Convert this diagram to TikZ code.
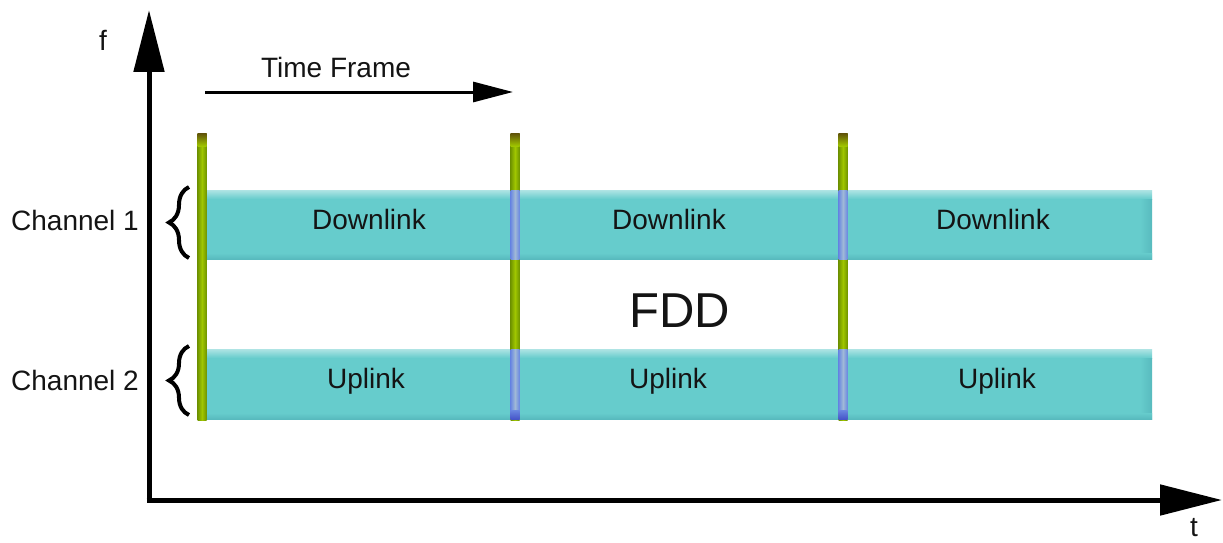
\documentclass[tikz,border=0pt]{standalone}
\usepackage{fontspec}
\setmainfont{Liberation Sans}
\usetikzlibrary{arrows.meta,decorations.pathreplacing}

\definecolor{band}{RGB}{102,204,204}
\definecolor{bandtop}{RGB}{175,228,228}
\definecolor{bandedge}{RGB}{88,186,190}
\definecolor{bargreen}{RGB}{160,198,0}
\definecolor{bardark}{RGB}{112,148,0}
\definecolor{barcap}{RGB}{95,80,10}
\definecolor{barblue}{RGB}{160,185,215}
\definecolor{barblueedge}{RGB}{105,135,225}
\definecolor{barbluedark}{RGB}{70,85,200}

\tikzset{
  lbl/.style={font=\fontsize{28}{31}\selectfont, text=black!92},
  big/.style={font=\fontsize{49}{52}\selectfont, text=black!92},
  axis/.style={line width=5pt, -{Triangle[length=62pt,width=30pt]}},
  frame arrow/.style={line width=3pt, -{Triangle[length=40pt,width=20pt]}},
  chbrace/.style={line width=4pt, decorate, decoration={brace,amplitude=20pt}},
}

\begin{document}
\begin{tikzpicture}[x=1pt,y=-1pt]
  \useasboundingbox (0,0) rectangle (1223,543);
  \fill[white] (0,0) rectangle (1223,543);

  % frequency bands
  \foreach \name/\ya/\yb in {down/190/259, up/349/419} {
    \fill[band] (207,\ya) rectangle (1152,\yb);
    \shade[top color=bandtop, bottom color=band] (207,\ya) rectangle (1152,\ya+9);
    \shade[left color=band, right color=bandedge] (1140,\ya+9) rectangle (1152,\yb);
    \shade[top color=band, bottom color=bandedge] (207,\yb-6) rectangle (1152,\yb);
  }

  % frame boundary bars
  \foreach \x in {202,515,843} {
    \shade[left color=bardark, right color=bardark, middle color=bargreen] (\x-4.5,133) rectangle (\x+4.5,420);
    \shade[top color=barcap, bottom color=bargreen] (\x-4.5,133) rectangle (\x+4.5,146);
  }
  % bar sections seen through the bands
  \foreach \x in {515,843} {
    \foreach \ya/\yb in {190/259, 349/419} {
      \shade[left color=barblueedge, right color=barblueedge, middle color=barblue] (\x-4.5,\ya) rectangle (\x+4.5,\yb);
    }
    \shade[top color=barblueedge, bottom color=barbluedark] (\x-4.5,410) rectangle (\x+4.5,419);
  }

  % axes
  \coordinate (O) at (149,500);
  \coordinate (ftop) at (149,10);
  \coordinate (tend) at (1222,500);
  \draw[axis] (O) -- (ftop);
  \draw[axis] ([xshift=-2.5pt]O) -- (tend);
  \node[lbl] (flabel) at (103,40) {f};
  \node[lbl] (tlabel) at (1194,528) {t};

  % time frame arrow
  \coordinate (tf0) at (205,92);
  \coordinate (tf1) at (513,92);
  \draw[frame arrow] (tf0) -- (tf1);
  \node[lbl] (tf) at (336,67) {Time Frame};

  % channel labels and braces
  \node[lbl] (ch1) at (75,220) {Channel 1};
  \node[lbl] (ch2) at (75,380) {Channel 2};
  \coordinate (b1a) at (189,258);
  \coordinate (b1b) at (189,187);
  \coordinate (b2a) at (189,415);
  \coordinate (b2b) at (189,346);
  \draw[chbrace] (b1a) -- (b1b);
  \draw[chbrace] (b2a) -- (b2b);

  % band labels
  \node[lbl] (d1) at (369,219) {Downlink};
  \node[lbl] (d2) at (669,219) {Downlink};
  \node[lbl] (d3) at (993,219) {Downlink};
  \node[lbl] (u1) at (366,381) {Uplink};
  \node[lbl] (u2) at (668,381) {Uplink};
  \node[lbl] (u3) at (997,381) {Uplink};
  \node[big] (fdd) at (680,311) {FDD};
\end{tikzpicture}
\end{document}
